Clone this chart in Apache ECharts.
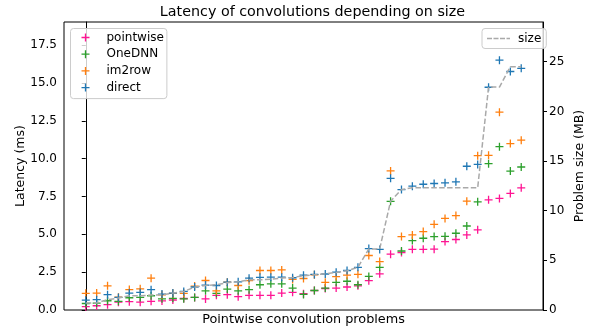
<!DOCTYPE html>
<html>
<head>
<meta charset="utf-8">
<script src="https://cdn.jsdelivr.net/npm/echarts@6/dist/echarts.min.js"></script>
<style>
  html, body { margin: 0; padding: 0; background: #fff; }
  #chart { width: 594px; height: 331px; }
</style>
</head>
<body>
<div id="chart"></div>
<script>
// Latency (ms) per pointwise convolution problem, sorted by problem size
const pointwise = [0.22, 0.28, 0.35, 0.52, 0.55, 0.52, 0.57, 0.60, 0.66, 0.76, 0.83, 0.73, 0.97, 1.01, 0.88, 0.97, 0.97, 0.97, 1.12, 1.17, 1.08, 1.29, 1.42, 1.45, 1.52, 1.60, 1.94, 2.39, 3.69, 3.80, 4.01, 4.01, 4.02, 4.52, 4.66, 4.96, 5.30, 7.28, 7.37, 7.70, 8.07];
const oneDNN    = [0.43, 0.46, 0.61, 0.57, 0.81, 0.83, 0.94, 0.74, 0.77, 0.74, 0.83, 1.27, 1.10, 1.38, 1.27, 1.34, 1.67, 1.73, 1.73, 1.45, 1.03, 1.29, 1.45, 1.83, 1.90, 1.67, 2.22, 2.82, 7.18, 3.90, 4.59, 4.74, 4.85, 4.87, 5.07, 5.55, 7.15, 9.67, 10.79, 9.18, 9.45];
const im2row    = [1.10, 1.12, 1.60, 0.85, 1.35, 1.40, 2.10, 1.00, 1.10, 1.10, 1.58, 1.95, 1.27, 1.84, 1.62, 1.94, 2.61, 2.61, 2.65, 2.02, 2.08, 2.33, 1.83, 2.21, 2.30, 2.36, 3.60, 3.20, 9.19, 4.85, 4.96, 5.18, 5.66, 6.05, 6.24, 7.19, 10.20, 10.22, 13.07, 11.00, 11.22];
const direct    = [0.65, 0.68, 1.01, 0.83, 1.12, 1.16, 1.34, 1.05, 1.12, 1.23, 1.52, 1.65, 1.62, 1.84, 1.86, 2.10, 2.16, 2.17, 2.17, 2.13, 2.30, 2.35, 2.38, 2.50, 2.61, 2.82, 4.06, 4.00, 8.70, 7.96, 8.18, 8.31, 8.36, 8.40, 8.47, 9.50, 9.62, 14.72, 16.51, 15.76, 15.97];

// Problem size (MB) of each problem
const sizeMB    = [0.70, 0.70, 1.05, 1.20, 1.44, 1.44, 1.50, 1.53, 1.70, 1.87, 2.30, 2.47, 2.54, 2.75, 2.85, 3.04, 3.04, 3.11, 3.21, 3.28, 3.44, 3.54, 3.64, 3.78, 3.96, 4.30, 6.15, 6.15, 10.96, 12.14, 12.30, 12.30, 12.30, 12.30, 12.30, 12.30, 12.30, 22.45, 22.45, 24.50, 24.50];

// Axis tick labels
const latencyTicks = [0, 2.5, 5, 7.5, 10, 12.5, 15, 17.5];
const sizeTicks = [0, 5, 10, 15, 20, 25];

const FONT = 'DejaVu Sans';
// "+" marker drawn as a thin filled cross
const CROSS = 'path://M0,3.35H8V4.65H0Z M3.35,0H4.65V8H3.35Z';
// dashed-line sample for the size legend entry
const DASHES = 'path://M0,0H5V1.5H0Z M6.5,0H11.5V1.5H6.5Z M13,0H18V1.5H13Z M19.5,0H23V1.5H19.5Z';
const SIZE_COLOR = '#a9a9a9';

const seriesDefs = [
  { name: 'pointwise', values: pointwise, color: '#ff1493' },
  { name: 'OneDNN', values: oneDNN, color: '#2ca02c' },
  { name: 'im2row', values: im2row, color: '#ff7f0e' },
  { name: 'direct', values: direct, color: '#1f77b4' }
];

const toPoints = vals => vals.map((v, i) => [i, v]);

const chart = echarts.init(document.getElementById('chart'), null, { renderer: 'canvas' });

const scatterSeries = seriesDefs.map(s => ({
  name: s.name,
  type: 'scatter',
  xAxisIndex: 0,
  yAxisIndex: 0,
  symbol: CROSS,
  symbolSize: 8,
  color: s.color,
  itemStyle: { color: s.color, borderWidth: 0, opacity: 1 },
  emphasis: { disabled: true },
  data: toPoints(s.values)
}));

chart.setOption({
  animation: false,
  backgroundColor: '#fff',
  color: seriesDefs.map(s => s.color).concat([SIZE_COLOR]),
  title: {
    text: 'Latency of convolutions depending on size',
    left: 307.5,
    top: 0,
    textAlign: 'center',
    textStyle: { fontFamily: FONT, fontSize: 14.3, fontWeight: 'normal', color: '#000' }
  },
  grid: {
    left: 64, right: 43, top: 22, bottom: 19,
    show: true, borderColor: '#000', borderWidth: 1, backgroundColor: 'transparent'
  },
  legend: [
    {
      data: seriesDefs.map(s => ({
        name: s.name,
        icon: CROSS,
        itemStyle: { color: s.color, borderWidth: 0, opacity: 1 }
      })),
      orient: 'vertical',
      left: 70.5, top: 28.5,
      itemWidth: 8, itemHeight: 8, itemGap: 2.7,
      padding: [2, 3, 4, 11],
      backgroundColor: 'rgba(255,255,255,0.8)',
      borderColor: '#cccccc', borderWidth: 1, borderRadius: 3,
      textStyle: { fontFamily: FONT, fontSize: 12, color: '#000', lineHeight: 14, padding: [0, 0, 0, 12] }
    },
    {
      data: [{ name: 'size', icon: DASHES, itemStyle: { color: SIZE_COLOR, borderWidth: 0 } }],
      orient: 'vertical',
      left: 482, top: 28.5,
      itemWidth: 23, itemHeight: 1.5,
      padding: [3, 5, 3, 5],
      backgroundColor: 'rgba(255,255,255,0.8)',
      borderColor: '#cccccc', borderWidth: 1, borderRadius: 3,
      textStyle: { fontFamily: FONT, fontSize: 12, color: '#000', lineHeight: 14, padding: [0, 0, 0, 3] }
    }
  ],
  xAxis: {
    type: 'value',
    min: -2, max: 42,
    name: 'Pointwise convolution problems',
    nameLocation: 'middle',
    nameGap: 3,
    nameMoveOverlap: false,
    nameTextStyle: { fontFamily: FONT, fontSize: 12.8, color: '#000', verticalAlign: 'top' },
    axisLine: { show: false },
    axisTick: { show: false },
    axisLabel: { show: false },
    splitLine: { show: false }
  },
  yAxis: [
    {
      type: 'value',
      position: 'left',
      min: 0, max: 19.03,
      name: 'Latency (ms)',
      nameLocation: 'middle',
      nameGap: 37,
      nameMoveOverlap: false,
      nameTextStyle: { fontFamily: FONT, fontSize: 12.5, color: '#000' },
      axisLine: { show: true, lineStyle: { color: '#000', width: 1 } },
      axisTick: { show: true, length: 4, lineStyle: { color: '#000' }, customValues: latencyTicks },
      axisLabel: {
        fontFamily: FONT, fontSize: 12, color: '#000', margin: 7,
        customValues: latencyTicks,
        formatter: v => v.toFixed(1)
      },
      splitLine: { show: false }
    },
    {
      type: 'value',
      position: 'right',
      min: 0, max: 29.0,
      name: 'Problem size (MB)',
      nameLocation: 'middle',
      nameGap: 30,
      nameMoveOverlap: false,
      nameTextStyle: { fontFamily: FONT, fontSize: 12.5, color: '#000' },
      axisLine: { show: true, lineStyle: { color: '#000', width: 1 } },
      axisTick: { show: true, length: 4, lineStyle: { color: '#000' }, customValues: sizeTicks },
      axisLabel: {
        fontFamily: FONT, fontSize: 12, color: '#000', margin: 6,
        customValues: sizeTicks,
        formatter: v => String(v)
      },
      splitLine: { show: false }
    }
  ],
  series: scatterSeries.concat([
    {
      name: 'size',
      type: 'line',
      xAxisIndex: 0,
      yAxisIndex: 1,
      symbol: 'none',
      showSymbol: false,
      color: SIZE_COLOR,
      itemStyle: { color: SIZE_COLOR },
      lineStyle: { color: SIZE_COLOR, width: 1.5, type: [5.5, 2.4] },
      emphasis: { disabled: true },
      data: toPoints(sizeMB)
    }
  ])
});
</script>
</body>
</html>
